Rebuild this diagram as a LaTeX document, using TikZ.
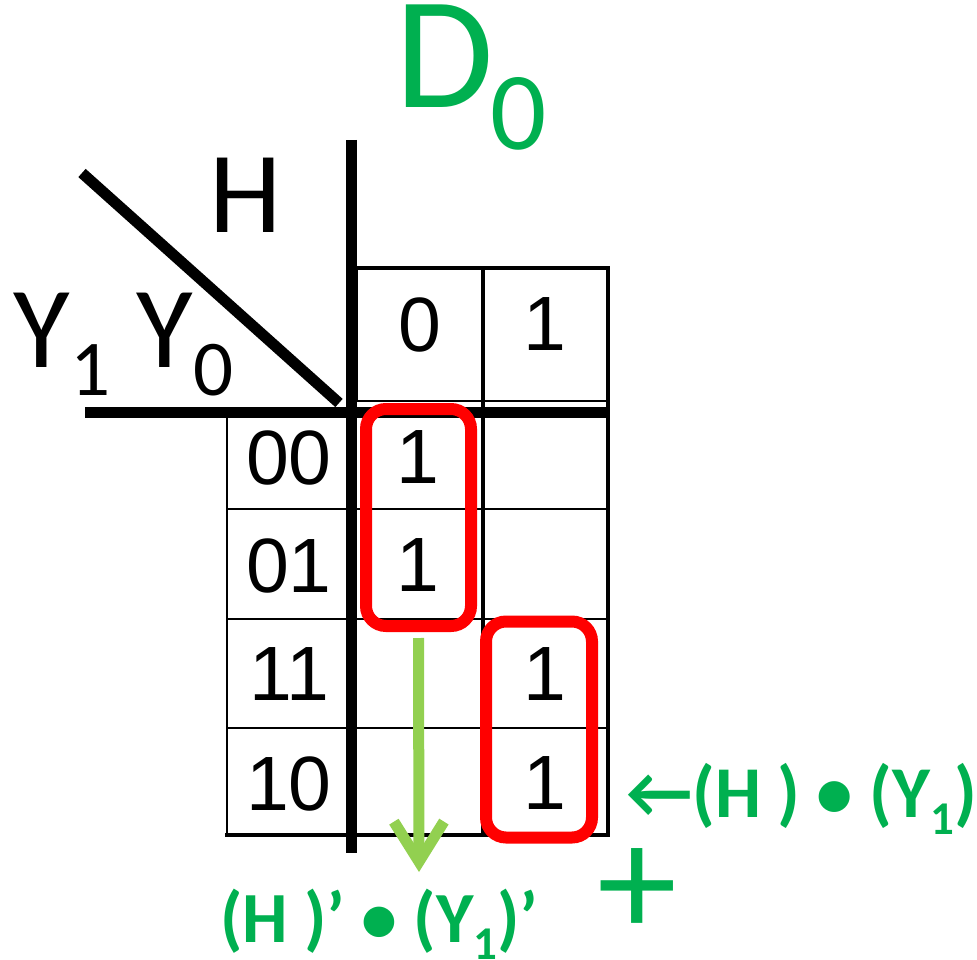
\documentclass[tikz,border=0pt]{standalone}
\usepackage{fontspec}
\setmainfont{Carlito}
\newfontfamily\arialf{Liberation Sans}
\usetikzlibrary{arrows.meta}
\definecolor{kgreen}{RGB}{0,176,80}
\definecolor{lgreen}{RGB}{146,208,80}
\definecolor{kred}{RGB}{255,0,0}
\tikzset{
 heavy/.style={line width=11pt},
 medium/.style={line width=4.5pt},
 light/.style={line width=2pt},
 redbox/.style={draw=kred, line width=12pt, rounded corners=20pt, inner sep=0pt},
 cell/.style={inner sep=0pt, font=\arialf\fontsize{77}{77}\selectfont},
 lab/.style={inner sep=0pt, anchor=base, font=\fontsize{116}{116}\selectfont},
 labsub/.style={inner sep=0pt, anchor=base, font=\fontsize{79}{79}\selectfont},
 gtext/.style={inner sep=0pt, anchor=base west, text=kgreen, font=\bfseries\fontsize{73}{73}\selectfont},
}
\newcommand{\gsub}[1]{\raisebox{-17pt}{\fontsize{47}{47}\selectfont #1}}
\begin{document}
\begin{tikzpicture}[x=1pt,y=-1pt]
\useasboundingbox (0,0) rectangle (977,960);
% thin grid lines
\draw[light] (227,412) -- (227,835);
\draw[light] (227,509) -- (608,509);
\draw[light] (227,619) -- (608,619);
\draw[light] (227,728) -- (608,728);
\draw[light] (357,268) -- (357,401);
\draw[light] (357,401) -- (608,401);
% medium lines
\draw[medium] (355,268) -- (610,268);
\draw[medium] (608,266) -- (608,837);
\draw[medium] (483,266) -- (483,835);
\draw[medium] (225,835) -- (610,835);
% heavy lines
\draw[heavy] (351,140) -- (351,853);
\draw[heavy] (85,412) -- (610,412);
\draw[heavy] (82,173) -- (339,403);
% labels
\node[lab] (lH) at (246,233) {H};
\node[lab] (lY1) at (41.5,367) {Y};
\node[labsub] (lY1s) at (91,395) {1};
\node[lab] (lY0) at (165,367) {Y};
\node[labsub] (lY0s) at (214,395) {0};
% header
\node[cell] (h0) at (420,324.5) {0};
\node[cell] (h1) at (545,324.5) {1};
% row labels
\node[cell] (r00) at (289,457.5) {00};
\node[cell] (r01) at (289,565.5) {01};
\node[cell] (r11) at (289,674.5) {11};
\node[cell] (r10) at (289,783.5) {10};
% cells
\node[cell] (c00) at (418,457.5) {1};
\node[cell] (c01) at (418,565.5) {1};
\node[cell] (c11) at (545,674.5) {1};
\node[cell] (c10) at (545,783.5) {1};
% red groups
\node[redbox, minimum width=105pt, minimum height=217pt] (grpA) at (418.5,517.5) {};
\node[redbox, minimum width=106pt, minimum height=216pt] (grpB) at (539,729.5) {};
% green arrow
\coordinate (tipD) at (419,872);
\draw[lgreen, line width=11pt, shorten <=6pt, -{Straight Barb[length=40pt,width=50pt]}] (grpA.south) -- (tipD);
% title
\node[inner sep=0pt, anchor=base, text=kgreen, font=\fontsize{160}{160}\selectfont] (tD) at (445,108) {D};
\node[inner sep=0pt, anchor=base, text=kgreen, font=\fontsize{111}{111}\selectfont] (tD0) at (519,150) {0};
% green expressions
\node[gtext] (eB) at (626,817) {←(H ) • (Y\gsub{1})};
\node[gtext, font=\bfseries\fontsize{72}{72}\selectfont] (eA) at (220,942) {(H )’ • (Y\gsub{1})’};
\node[inner sep=0pt, anchor=base, text=kgreen, font=\fontsize{160}{160}\selectfont] (plus) at (637,936) {+};
\end{tikzpicture}
\end{document}
